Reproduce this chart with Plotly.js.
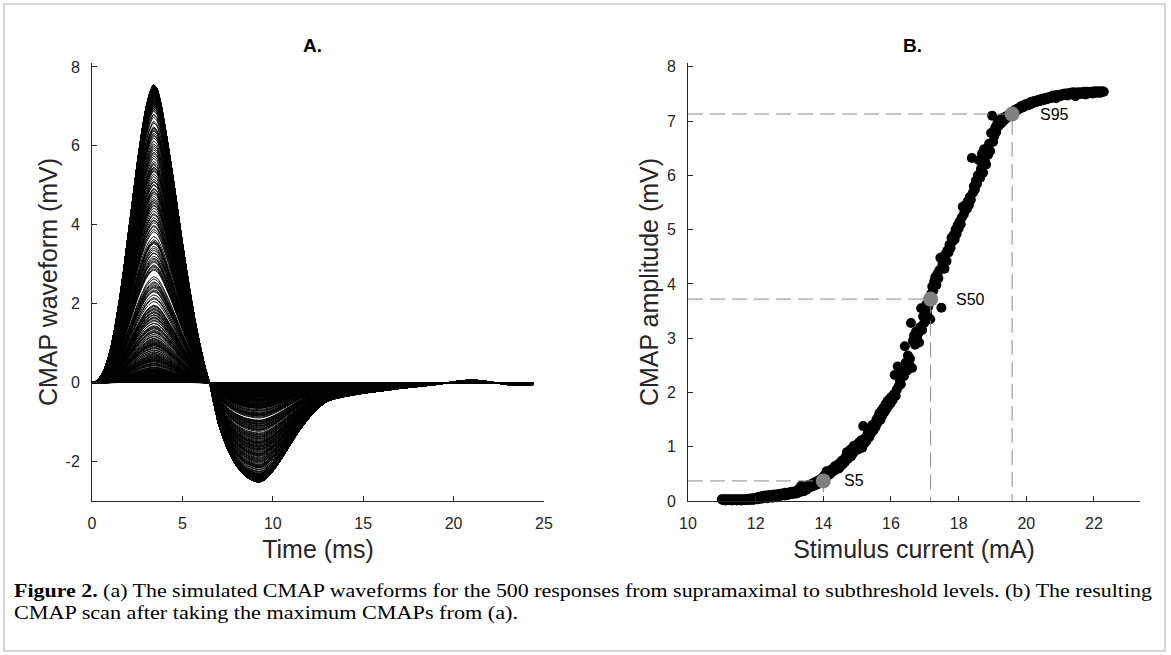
<!DOCTYPE html>
<html><head><meta charset="utf-8">
<script src="https://cdn.plot.ly/plotly-3.0.1.min.js"></script>
<style>html,body{margin:0;padding:0;background:#fff}#chart{width:1171px;height:655px}</style>
</head><body><div id="chart"></div>
<script>
// Panel A: template waveform of the largest (supramaximal) CMAP
const waveTime  = [0,0.25,0.5,0.75,1.0,1.25,1.5,1.75,2.0,2.25,2.5,2.75,3.0,3.2,3.4,3.6,3.8,4.0,4.25,4.5,4.75,5.0,5.25,5.5,5.75,6.0,6.25,6.5,6.75,7.0,7.5,8.0,8.5,9.0,9.25,9.5,10.0,10.5,11.0,11.5,12.0,12.5,13.0,13.5,14.0,15.0,16.0,17.0,18.0,19.0,20.0,20.5,21.0,21.5,22.0,22.5,23.0,23.5,24.0,24.4];
const waveShape = [0,0.04,0.18,0.42,0.80,1.35,2.05,2.85,3.75,4.65,5.55,6.35,7.0,7.35,7.55,7.45,7.1,6.6,5.9,5.15,4.35,3.55,2.8,2.1,1.45,0.9,0.4,0.0,-0.55,-1.05,-1.70,-2.12,-2.38,-2.50,-2.52,-2.48,-2.25,-1.92,-1.55,-1.2,-0.9,-0.65,-0.48,-0.40,-0.35,-0.27,-0.21,-0.15,-0.10,-0.05,0.02,0.05,0.06,0.05,0.02,-0.02,-0.05,-0.07,-0.06,-0.05];

// Panel B: CMAP scan (stimulus current in mA, peak amplitude in mV)
const stimCurrent = [
11.000,11.025,11.050,11.075,11.100,11.125,11.150,11.175,11.200,11.225,
11.250,11.275,11.300,11.325,11.350,11.375,11.400,11.425,11.450,11.475,
11.500,11.525,11.550,11.575,11.600,11.625,11.650,11.675,11.700,11.725,
11.750,11.775,11.800,11.825,11.850,11.875,11.900,11.925,11.950,11.975,
12.000,12.025,12.050,12.075,12.100,12.125,12.150,12.175,12.200,12.225,
12.250,12.275,12.300,12.325,12.350,12.375,12.400,12.425,12.450,12.475,
12.500,12.525,12.550,12.575,12.600,12.625,12.650,12.675,12.700,12.725,
12.750,12.775,12.800,12.825,12.850,12.875,12.900,12.925,12.950,12.975,
13.000,13.025,13.050,13.075,13.100,13.125,13.150,13.175,13.200,13.225,
13.250,13.275,13.300,13.325,13.350,13.375,13.400,13.425,13.450,13.475,
13.50,13.53,13.56,13.59,13.62,13.65,13.68,13.71,13.74,13.77,
13.80,13.83,13.86,13.89,13.92,13.95,13.98,14.01,14.04,14.07,
14.10,14.13,14.16,14.19,14.22,14.25,14.28,14.31,14.34,14.37,
14.40,14.43,14.46,14.49,14.52,14.55,14.58,14.61,14.64,14.67,
14.70,14.73,14.76,14.79,14.82,14.85,14.88,14.91,14.94,14.97,
15.00,15.03,15.06,15.09,15.12,15.15,15.18,15.21,15.24,15.27,
15.30,15.33,15.36,15.39,15.42,15.45,15.48,15.51,15.54,15.57,
15.60,15.63,15.66,15.69,15.72,15.75,15.78,15.81,15.84,15.87,
15.90,15.93,15.96,15.99,16.02,16.05,16.08,16.11,16.14,16.17,
16.20,16.23,16.26,16.29,16.32,16.35,16.38,16.41,16.44,16.47,
16.50,16.53,16.56,16.59,16.62,16.65,16.68,16.71,16.74,16.77,
16.80,16.83,16.86,16.89,16.92,16.95,16.98,17.01,17.04,17.07,
17.10,17.13,17.16,17.19,17.22,17.25,17.28,17.31,17.34,17.37,
17.40,17.43,17.46,17.49,17.52,17.55,17.58,17.61,17.64,17.67,
17.70,17.73,17.76,17.79,17.82,17.85,17.88,17.91,17.94,17.97,
18.00,18.03,18.06,18.09,18.12,18.15,18.18,18.21,18.24,18.27,
18.30,18.33,18.36,18.39,18.42,18.45,18.48,18.51,18.54,18.57,
18.60,18.63,18.66,18.69,18.72,18.75,18.78,18.81,18.84,18.87,
18.90,18.93,18.96,18.99,19.02,19.05,19.08,19.11,19.14,19.17,
19.20,19.23,19.26,19.29,19.32,19.35,19.38,19.41,19.44,19.47,
19.50,19.53,19.56,19.59,19.62,19.65,19.68,19.71,19.74,19.77,
19.80,19.83,19.86,19.89,19.92,19.95,19.98,20.01,20.04,20.07,
20.10,20.13,20.16,20.19,20.22,20.25,20.28,20.31,20.34,20.37,
20.40,20.43,20.46,20.49,20.52,20.55,20.58,20.61,20.64,20.67,
20.70,20.73,20.76,20.79,20.82,20.85,20.88,20.91,20.94,20.97,
21.00,21.03,21.06,21.09,21.12,21.15,21.18,21.21,21.24,21.27,
21.30,21.33,21.36,21.39,21.42,21.45,21.48,21.51,21.54,21.57,
21.60,21.63,21.66,21.69,21.72,21.75,21.78,21.81,21.84,21.87,
21.90,21.93,21.96,21.99,22.02,22.05,22.08,22.11,22.14,22.17,
22.20,22.23,22.26,22.29];
const cmapAmp = [
0.03,0.02,0.03,0.02,0.01,0.03,0.02,0.02,0.03,0.02,
0.03,0.02,0.01,0.02,0.03,0.02,0.02,0.03,0.01,0.02,
0.03,0.02,0.02,0.01,0.03,0.02,0.03,0.02,0.02,0.03,
0.02,0.04,0.03,0.02,0.04,0.03,0.05,0.02,0.04,0.05,
0.04,0.06,0.03,0.07,0.05,0.08,0.04,0.06,0.09,0.05,
0.07,0.10,0.06,0.09,0.05,0.08,0.11,0.07,0.10,0.08,
0.06,0.09,0.12,0.08,0.10,0.07,0.11,0.13,0.09,0.12,
0.10,0.14,0.11,0.13,0.10,0.15,0.12,0.14,0.11,0.15,
0.13,0.16,0.14,0.17,0.13,0.16,0.15,0.18,0.14,0.17,
0.15,0.19,0.24,0.17,0.28,0.20,0.23,0.18,0.26,0.22,
0.21,0.28,0.24,0.30,0.26,0.31,0.27,0.33,0.29,0.35,
0.30,0.37,0.33,0.39,0.35,0.42,0.38,0.45,0.48,0.44,
0.55,0.47,0.52,0.49,0.57,0.53,0.60,0.56,0.64,0.58,
0.62,0.67,0.60,0.70,0.65,0.74,0.68,0.77,0.72,0.82,
0.90,0.78,0.86,0.94,0.82,0.97,0.88,1.02,0.93,0.98,
1.04,0.95,1.08,1.00,1.12,0.98,1.38,1.06,1.16,1.10,
1.22,1.28,1.18,1.32,1.26,1.40,1.30,1.42,1.36,1.50,
1.44,1.56,1.62,1.50,1.66,1.58,1.72,1.64,1.78,1.70,
1.84,1.76,1.88,1.80,1.92,1.86,1.96,2.32,1.94,2.05,
2.48,2.12,2.22,2.15,2.35,2.42,2.30,2.85,2.55,2.40,
2.68,2.52,2.62,3.28,2.45,2.95,3.05,2.88,3.12,2.98,
3.08,2.92,3.20,3.55,3.15,3.40,3.28,3.52,3.62,3.45,
3.58,3.70,3.35,3.82,3.95,3.88,4.05,4.12,3.98,4.18,
4.10,4.25,4.48,3.56,4.35,4.50,4.28,4.55,4.42,4.62,
4.58,4.72,4.66,4.85,4.78,4.90,4.82,5.00,4.92,5.08,
5.02,5.15,5.10,5.22,5.42,5.28,5.35,5.46,5.38,5.52,
5.45,5.60,5.55,6.32,5.68,5.80,5.74,5.90,5.84,6.00,
6.28,5.95,6.12,6.40,6.05,6.48,6.25,6.20,6.44,6.38,
6.58,6.45,6.78,7.10,6.62,6.72,6.88,6.80,6.95,6.90,
7.00,6.94,7.04,6.98,7.06,7.02,7.08,7.05,7.10,7.09,
7.12,7.14,7.16,7.13,7.18,7.20,7.17,7.22,7.21,7.24,
7.23,7.26,7.28,7.25,7.29,7.27,7.31,7.30,7.32,7.29,
7.33,7.35,7.32,7.36,7.34,7.37,7.35,7.38,7.36,7.39,
7.37,7.40,7.38,7.41,7.39,7.42,7.40,7.43,7.41,7.44,
7.42,7.45,7.43,7.47,7.44,7.46,7.42,7.48,7.45,7.47,
7.46,7.49,7.47,7.50,7.48,7.51,7.49,7.47,7.51,7.50,
7.52,7.49,7.51,7.53,7.50,7.46,7.52,7.50,7.53,7.51,
7.52,7.50,7.53,7.51,7.54,7.49,7.52,7.54,7.51,7.53,
7.52,7.54,7.51,7.53,7.55,7.52,7.54,7.53,7.55,7.52,
7.54,7.53,7.55,7.54];

// Threshold markers S5 / S50 / S95
const sLabels  = ['S5','S50','S95'];
const sCurrent = [14.0, 17.17, 19.58];
const sAmp     = [0.37, 3.72, 7.13];

// Ticks
const xTicksA = [0,5,10,15,20,25];
const yTicksA = [-2,0,2,4,6,8];
const yTickTextA = ['-2','0','2','4','6','8'];
const xTicksB = [10,12,14,16,18,20,22];
const yTicksB = [0,1,2,3,4,5,6,7,8];

// Text
const captionLine1 = '<b>Figure 2.</b> (a) The simulated CMAP waveforms for the 500 responses from supramaximal to subthreshold levels. (b) The resulting';
const captionLine2 = 'CMAP scan after taking the maximum CMAPs from (a).';

// Waveform family for panel A: template scaled to each measured peak amplitude
const templatePeak = Math.max(...waveShape);
const wx = [], wy = [];
cmapAmp.forEach(a => {
  const k = a / templatePeak;
  waveTime.forEach((t, i) => { wx.push(t); wy.push(waveShape[i] * k); });
  wx.push(null); wy.push(null);
});

// dashed guide lines from the axes to each S point
const gx = [], gy = [];
sCurrent.forEach((c, i) => {
  gx.push(10, c, c, null);
  gy.push(sAmp[i], sAmp[i], 0, null);
});

const axColor = '#262626';
const sans = 'Liberation Sans, Arial, Helvetica, sans-serif';
const tickFont = {family: sans, size: 16, color: axColor};
const titleFont = {family: sans, size: 25, color: axColor};
const W = 1171, H = 655;
const yDom = [(H - 501) / H, (H - 63) / H];

const baseAxis = {
  showline: true, linecolor: axColor, linewidth: 1, ticks: 'inside', ticklen: 5,
  tickwidth: 1, tickcolor: axColor, showgrid: false, zeroline: false,
  tickfont: tickFont, fixedrange: true, automargin: false
};

const traces = [
  {x: wx, y: wy, xaxis: 'x', yaxis: 'y', type: 'scatter', mode: 'lines',
   line: {color: '#000', width: 1, shape: 'spline', smoothing: 0.6}, connectgaps: false, hoverinfo: 'skip'},
  {x: stimCurrent, y: cmapAmp, xaxis: 'x2', yaxis: 'y2', type: 'scatter', mode: 'markers',
   marker: {color: '#000', size: 10, line: {width: 0}}, cliponaxis: false, hoverinfo: 'skip'},
  {x: gx, y: gy, xaxis: 'x2', yaxis: 'y2', type: 'scatter', mode: 'lines',
   line: {color: '#8c8c8c', width: 1, dash: '15px,7px'}, connectgaps: false, hoverinfo: 'skip'},
  {x: sCurrent, y: sAmp, xaxis: 'x2', yaxis: 'y2', type: 'scatter', mode: 'markers',
   marker: {color: '#808080', size: 15, line: {width: 0}}, cliponaxis: false, hoverinfo: 'skip'}
];

const labelShift = [19, 23, 26];
const serifFont = {family: 'Liberation Serif, Times New Roman, serif', size: 18, color: '#000'};
const annotations = [
  {text: '<b>A.</b>', xref: 'paper', yref: 'paper', x: 312 / W, y: (H - 45) / H, showarrow: false,
   xanchor: 'center', yanchor: 'middle', font: {family: sans, size: 19, color: '#000'}},
  {text: '<b>B.</b>', xref: 'paper', yref: 'paper', x: 912 / W, y: (H - 45) / H, showarrow: false,
   xanchor: 'center', yanchor: 'middle', font: {family: sans, size: 19, color: '#000'}},
  {text: captionLine1, xref: 'paper', yref: 'paper', x: 12 / W, y: (H - 591) / H, showarrow: false,
   xanchor: 'left', yanchor: 'middle', align: 'left', font: serifFont},
  {text: captionLine2, xref: 'paper', yref: 'paper', x: 12 / W, y: (H - 613) / H, showarrow: false,
   xanchor: 'left', yanchor: 'middle', align: 'left', font: serifFont}
];
sLabels.forEach((s, i) => annotations.push({
  text: s, xref: 'x2', yref: 'y2', x: sCurrent[i], y: sAmp[i], showarrow: false,
  xanchor: 'left', yanchor: 'middle', xshift: labelShift[i],
  font: {family: sans, size: 16, color: '#000'}
}));

const layout = {
  width: W, height: H, margin: {l: 0, r: 0, t: 0, b: 0},
  paper_bgcolor: '#fff', plot_bgcolor: 'rgba(0,0,0,0)', showlegend: false,
  xaxis: Object.assign({}, baseAxis, {domain: [92 / W, 544 / W], range: [0, 25], anchor: 'y',
    tickmode: 'array', tickvals: xTicksA, ticklabelstandoff: 8,
    title: {text: 'Time (ms)', font: titleFont, standoff: 9}}),
  yaxis: Object.assign({}, baseAxis, {domain: yDom, range: [-3, 8.1], anchor: 'x',
    tickmode: 'array', tickvals: yTicksA, ticktext: yTickTextA, ticklabelstandoff: 8,
    title: {text: 'CMAP waveform (mV)', font: titleFont, standoff: 0}}),
  xaxis2: Object.assign({}, baseAxis, {domain: [688 / W, 1140 / W], range: [10, 23.36], anchor: 'y2',
    tickmode: 'array', tickvals: xTicksB, ticklabelstandoff: 8,
    title: {text: 'Stimulus current (mA)', font: titleFont, standoff: 9}}),
  yaxis2: Object.assign({}, baseAxis, {domain: yDom, range: [0, 8.07], anchor: 'x2',
    tickmode: 'array', tickvals: yTicksB, ticklabelstandoff: 8,
    title: {text: 'CMAP amplitude (mV)', font: titleFont, standoff: 1}}),
  annotations: annotations,
  shapes: [{type: 'rect', xref: 'paper', yref: 'paper', x0: 4 / W, x1: 1165 / W, y0: (H - 651) / H, y1: (H - 4) / H,
    line: {color: '#c8c8c8', width: 1.5}, fillcolor: 'rgba(0,0,0,0)', layer: 'below'}]
};

// The reference caption is set in a wider serif; stretch the real text to the same line lengths.
const captionWidths = [1138, 504];
Plotly.newPlot('chart', traces, layout, {staticPlot: true, displayModeBar: false}).then(() => {
  document.querySelectorAll('#chart .annotation-text').forEach(el => {
    const t = el.textContent;
    let target = null;
    if (t.startsWith('Figure 2.')) target = captionWidths[0];
    else if (t.startsWith('CMAP scan')) target = captionWidths[1];
    if (target) {
      el.setAttribute('textLength', target);
      el.setAttribute('lengthAdjust', 'spacingAndGlyphs');
    }
  });
});
</script>
</body></html>
